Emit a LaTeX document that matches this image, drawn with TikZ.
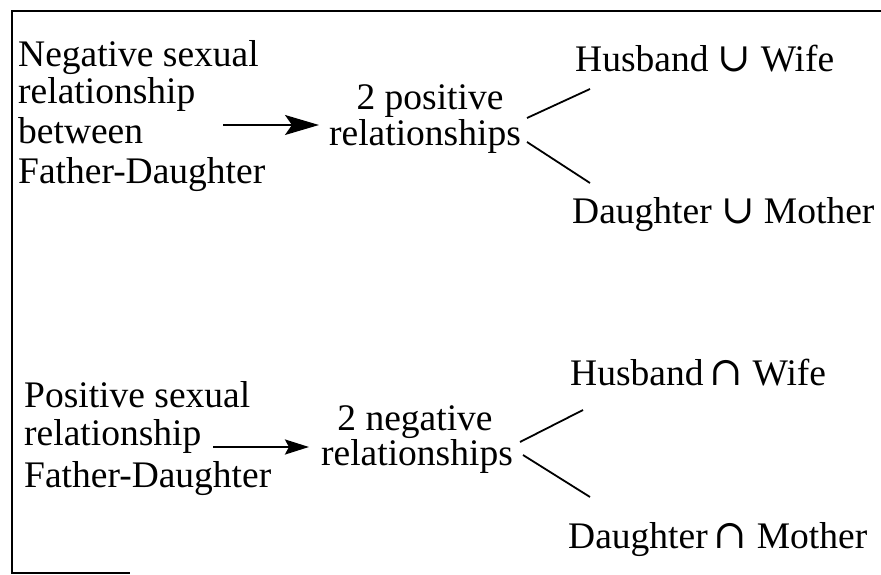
\documentclass[tikz,border=0pt]{standalone}
\usepackage{fontspec}
\setmainfont{Liberation Serif}
\newfontfamily\opfont{DejaVu Serif}
\newcommand{\setunion}{{\opfont\fontsize{40}{40}\selectfont ∪}}
\newcommand{\setinter}{{\opfont\fontsize{40}{40}\selectfont ∩}}
\usetikzlibrary{arrows.meta}
\begin{document}
\begin{tikzpicture}[x=1pt,y=-1pt,
  txt/.style={inner sep=0pt, font=\fontsize{37.5}{40}\selectfont},
  lbl/.style={txt, anchor=base west},
  mid/.style={txt, anchor=base},
  frame/.style={line width=2pt},
  branch/.style={line width=1.8pt},
  ptrA/.style={line width=1.6pt, -{Stealth[length=34pt,width=20pt,inset=7pt]}},
  ptrB/.style={line width=2.4pt, -{Stealth[length=24pt,width=15pt,inset=4pt]}}]
\useasboundingbox (0,0) rectangle (881,575);

% open frame: top, left and a short stretch of the bottom
\draw[frame] (881,11) -- (12,11) -- (12,573) -- (130,573);

% upper case: negative relationship
\node[lbl] (neg1) at (18,67)  {Negative sexual};
\node[lbl] (neg2) at (18,104) {relationship};
\node[lbl] (neg3) at (18,143) {between};
\node[lbl] (neg4) at (18,183) {Father-Daughter};

\node[mid] (pos2) at (430,110) {2 positive};
\node[mid] (posr) at (425,146) {relationships};

\node[lbl] (hw1) at (575,72)  {Husband \setunion{} Wife};
\node[lbl] (dm1) at (572,223) {Daughter \setunion{} Mother};

\coordinate (a1) at (223,125);
\draw[ptrA] (a1) -- ([xshift=-10pt]a1 -| posr.west);

\coordinate (b1a) at (527,118);
\coordinate (b1b) at (590,89);
\coordinate (b1c) at (527,142);
\coordinate (b1d) at (590,183);
\draw[branch] (b1a) -- (b1b);
\draw[branch] (b1c) -- (b1d);

% lower case: positive relationship
\node[lbl] (pos1) at (24,407) {Positive sexual};
\node[lbl] (pos3) at (24,445) {relationship};
\node[lbl] (pos4) at (24,487) {Father-Daughter};

\node[mid] (neg2b) at (415,430) {2 negative};
\node[mid] (negr) at (417,465) {relationships};

\node[lbl] (hw2) at (570,385) {Husband\,\setinter{} Wife};
\node[lbl] (dm2) at (568,548) {Daughter\,\setinter{} Mother};

\coordinate (a2) at (213,447);
\draw[ptrB] (a2) -- ([xshift=-12pt]a2 -| negr.west);

\coordinate (b2a) at (520,442);
\coordinate (b2b) at (583,410);
\coordinate (b2c) at (523,455);
\coordinate (b2d) at (590,497);
\draw[branch] (b2a) -- (b2b);
\draw[branch] (b2c) -- (b2d);
\end{tikzpicture}
\end{document}
